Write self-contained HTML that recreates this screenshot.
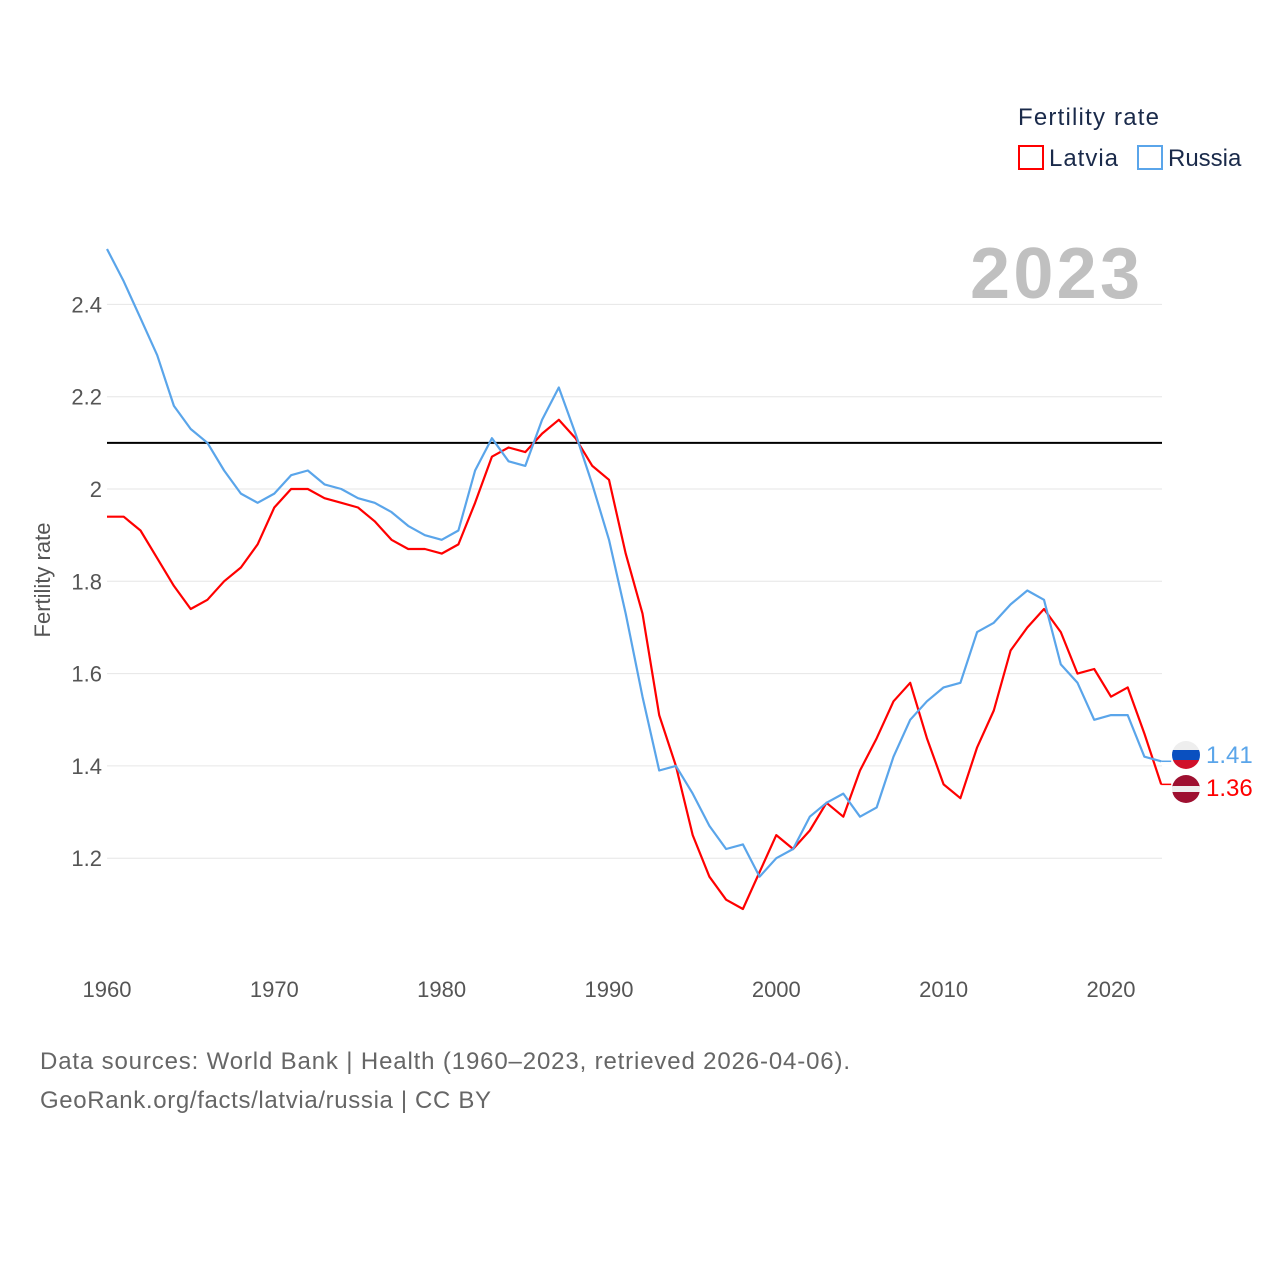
<!DOCTYPE html>
<html><head><meta charset="utf-8"><style>
body{margin:0;background:#fff;font-family:"Liberation Sans",sans-serif;}
svg text{font-family:"Liberation Sans",sans-serif;}
</style></head><body>
<svg id="chart" width="1280" height="1280" xmlns="http://www.w3.org/2000/svg">
<defs>
<clipPath id="c1"><circle cx="1186" cy="755" r="14"/></clipPath>
<clipPath id="c2"><circle cx="1186" cy="789" r="14"/></clipPath>
</defs>
<g id="grid"></g>
<g id="lines"></g>
<text x="1018" y="125" font-size="24" fill="#1a2a4a" textLength="141">Fertility rate</text>
<rect x="1019" y="146" width="24" height="23" fill="none" stroke="#f00" stroke-width="2"/>
<text x="1049" y="166" font-size="24" fill="#1a2a4a" textLength="69">Latvia</text>
<rect x="1138" y="146" width="24" height="23" fill="none" stroke="#5aa5ea" stroke-width="2"/>
<text x="1168" y="166" font-size="24" fill="#1a2a4a">Russia</text>
<text x="970" y="298" font-size="72" font-weight="bold" fill="#c0c0c0" textLength="170">2023</text>
<text transform="translate(50,580) rotate(-90)" font-size="22" fill="#555" text-anchor="middle">Fertility rate</text>
<g clip-path="url(#c1)"><rect x="1172" y="741" width="28" height="10" fill="#eee"/><rect x="1172" y="750" width="28" height="10" fill="#0a50c0"/><rect x="1172" y="760" width="28" height="10" fill="#d0102a"/></g>
<g clip-path="url(#c2)"><rect x="1172" y="775" width="28" height="12" fill="#9e1030"/><rect x="1172" y="786" width="28" height="6" fill="#eee"/><rect x="1172" y="792" width="28" height="12" fill="#9e1030"/></g>
<text x="1206" y="763" font-size="24" fill="#5aa5ea">1.41</text>
<text x="1206" y="796" font-size="24" fill="#f00">1.36</text>
<text x="40" y="1069" font-size="24" fill="#666" textLength="810">Data sources: World Bank | Health (1960–2023, retrieved 2026-04-06).</text>
<text x="40" y="1108" font-size="24" fill="#666" textLength="451">GeoRank.org/facts/latvia/russia | CC BY</text>
</svg>
<script>
const years=[];for(let y=1960;y<=2023;y++)years.push(y);
const russia=[2.52,2.45,2.37,2.29,2.18,2.13,2.10,2.04,1.99,1.97,1.99,2.03,2.04,2.01,2.00,1.98,1.97,1.95,1.92,1.90,1.89,1.91,2.04,2.11,2.06,2.05,2.15,2.22,2.12,2.01,1.89,1.73,1.55,1.39,1.40,1.34,1.27,1.22,1.23,1.16,1.20,1.22,1.29,1.32,1.34,1.29,1.31,1.42,1.50,1.54,1.57,1.58,1.69,1.71,1.75,1.78,1.76,1.62,1.58,1.50,1.51,1.51,1.42,1.41];
const latvia=[1.94,1.94,1.91,1.85,1.79,1.74,1.76,1.80,1.83,1.88,1.96,2.00,2.00,1.98,1.97,1.96,1.93,1.89,1.87,1.87,1.86,1.88,1.97,2.07,2.09,2.08,2.12,2.15,2.11,2.05,2.02,1.86,1.73,1.51,1.40,1.25,1.16,1.11,1.09,1.17,1.25,1.22,1.26,1.32,1.29,1.39,1.46,1.54,1.58,1.46,1.36,1.33,1.44,1.52,1.65,1.70,1.74,1.69,1.60,1.61,1.55,1.57,1.47,1.36];
const yTicks=[1.2,1.4,1.6,1.8,2,2.2,2.4];
const xTicks=[1960,1970,1980,1990,2000,2010,2020];
const refLine=2.1;
const X=y=>107+(y-1960)*16.733;
const Y=v=>489-(v-2)*461.5;
const NS="http://www.w3.org/2000/svg";
const grid=document.getElementById('grid'),lines=document.getElementById('lines');
function mk(tag,attrs,parent){const e=document.createElementNS(NS,tag);for(const k in attrs)e.setAttribute(k,attrs[k]);parent.appendChild(e);return e;}
yTicks.forEach(v=>{
 const l=mk('line',{x1:107,x2:1162,y1:Y(v),y2:Y(v),stroke:'#e6e6e6','stroke-width':1},grid);
 
 
 const t=mk('text',{x:102,y:Y(v)+8,'font-size':22,fill:'#555','text-anchor':'end'},grid);
 
 
 t.textContent=String(v);
});
xTicks.forEach(v=>{
 const t=mk('text',{x:X(v),y:997,'font-size':22,fill:'#555','text-anchor':'middle'},grid);
 
 
 t.textContent=String(v);
});
const rl=mk('line',{x1:107,x2:1162,y1:Y(refLine),y2:Y(refLine),stroke:'#000','stroke-width':2},lines);


function path(vals,color,name){
 const d=vals.map((v,i)=>(i?'L':'M')+X(years[i]).toFixed(1)+' '+Y(v).toFixed(1)).join(' ');
 const p=mk('path',{d:d,fill:'none',stroke:color,'stroke-width':2.2,'stroke-linejoin':'round'},lines);
 
 
 const lx=X(2023),ly=Y(vals[vals.length-1]);
 const c=mk('path',{d:'M'+lx+' '+ly+' L'+(lx+10)+' '+ly,stroke:color,'stroke-width':1.5,fill:'none'},lines);
 
 
}
path(latvia,'#f00','latvia-line');
path(russia,'#5aa5ea','russia-line');
</script>
</body></html>
